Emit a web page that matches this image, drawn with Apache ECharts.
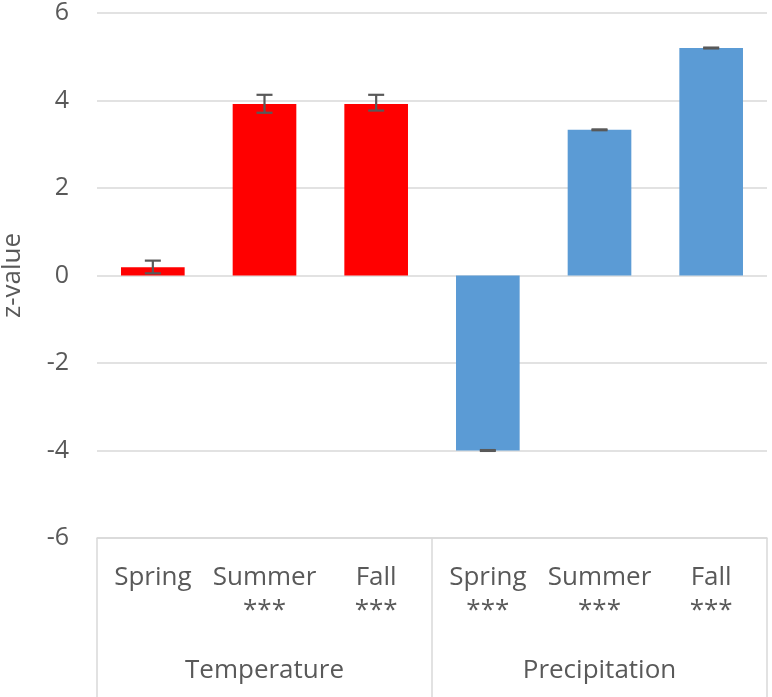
<!DOCTYPE html>
<html>
<head>
<meta charset="utf-8">
<script src="https://cdn.jsdelivr.net/npm/echarts@6/dist/echarts.min.js"></script>
<style>html,body{margin:0;padding:0;background:#fff}#c{width:772px;height:697px}</style>
</head>
<body>
<div id="c"></div>
<script>
const categories = ['Spring', 'Summer', 'Fall', 'Spring', 'Summer', 'Fall'];
const groups = ['Temperature', 'Precipitation'];
const groupOfCategory = [0, 0, 0, 1, 1, 1];
const significance = ['', '***', '***', '***', '***', '***'];
const values = [0.19, 3.92, 3.92, -4.0, 3.33, 5.2];
const errLow = [0.05, 3.72, 3.77, -4.01, 3.32, 5.19];
const errHigh = [0.34, 4.13, 4.13, -3.99, 3.34, 5.21];
const yTicks = { min: -6, max: 6, interval: 2 };

const groupColors = ['#ff0000', '#5b9bd5'];
const textColor = '#595959';
const lineColor = '#d9d9d9';
const font = '"Open Sans", sans-serif';

const chart = echarts.init(document.getElementById('c'));
chart.setOption({
  animation: false,
  grid: { left: 97, right: 5, top: 13, bottom: 159, containLabel: false, outerBoundsMode: 'none' },
  xAxis: [
    {
      type: 'category',
      data: categories,
      position: 'bottom',
      axisLine: { show: true, onZero: false, lineStyle: { color: lineColor, width: 1.5 } },
      axisTick: { show: false },
      splitLine: { show: false },
      axisLabel: {
        interval: 0,
        margin: 23,
        formatter: function (v, i) {
          const s = significance[i] || ' ';
          return '{a|' + v + '}\n{b|' + s + '}';
        },
        rich: {
          a: { fontSize: 26, lineHeight: 33, color: textColor, fontFamily: font },
          b: { fontSize: 26, lineHeight: 33, color: textColor, fontFamily: font }
        }
      }
    },
    {
      type: 'category',
      data: groups,
      position: 'bottom',
      offset: 0,
      axisLine: { show: false, onZero: false },
      axisTick: { show: true, interval: 0, length: 170, lineStyle: { color: lineColor, width: 1.5 } },
      axisLabel: { margin: 120, fontSize: 26, color: textColor, fontFamily: font }
    }
  ],
  yAxis: {
    type: 'value',
    min: yTicks.min,
    max: yTicks.max,
    interval: yTicks.interval,
    name: 'z-value',
    nameLocation: 'middle',
    nameGap: 71,
    nameTextStyle: { fontSize: 26, color: textColor, fontFamily: font },
    axisLine: { show: false },
    axisTick: { show: false },
    axisLabel: { fontSize: 25, color: textColor, fontFamily: font, margin: 28 },
    splitLine: { show: true, lineStyle: { color: lineColor, width: 1.5 } }
  },
  series: [
    {
      type: 'bar',
      xAxisIndex: 0,
      barWidth: '57%',
      data: values,
      itemStyle: {
        color: function (p) { return groupColors[groupOfCategory[p.dataIndex]]; }
      },
      z: 2
    },
    {
      type: 'custom',
      xAxisIndex: 0,
      z: 3,
      data: categories.map(function (c, i) { return [i, errLow[i], errHigh[i]]; }),
      renderItem: function (params, api) {
        const x = api.value(0);
        const lo = api.coord([x, api.value(1)]);
        const hi = api.coord([x, api.value(2)]);
        const hw = 8;
        const style = { stroke: '#595959', lineWidth: 2.2 };
        return {
          type: 'group',
          children: [
            { type: 'line', shape: { x1: lo[0], y1: lo[1], x2: hi[0], y2: hi[1] }, style: style },
            { type: 'line', shape: { x1: lo[0] - hw, y1: lo[1], x2: lo[0] + hw, y2: lo[1] }, style: style },
            { type: 'line', shape: { x1: hi[0] - hw, y1: hi[1], x2: hi[0] + hw, y2: hi[1] }, style: style }
          ]
        };
      }
    }
  ]
});
</script>
</body>
</html>
